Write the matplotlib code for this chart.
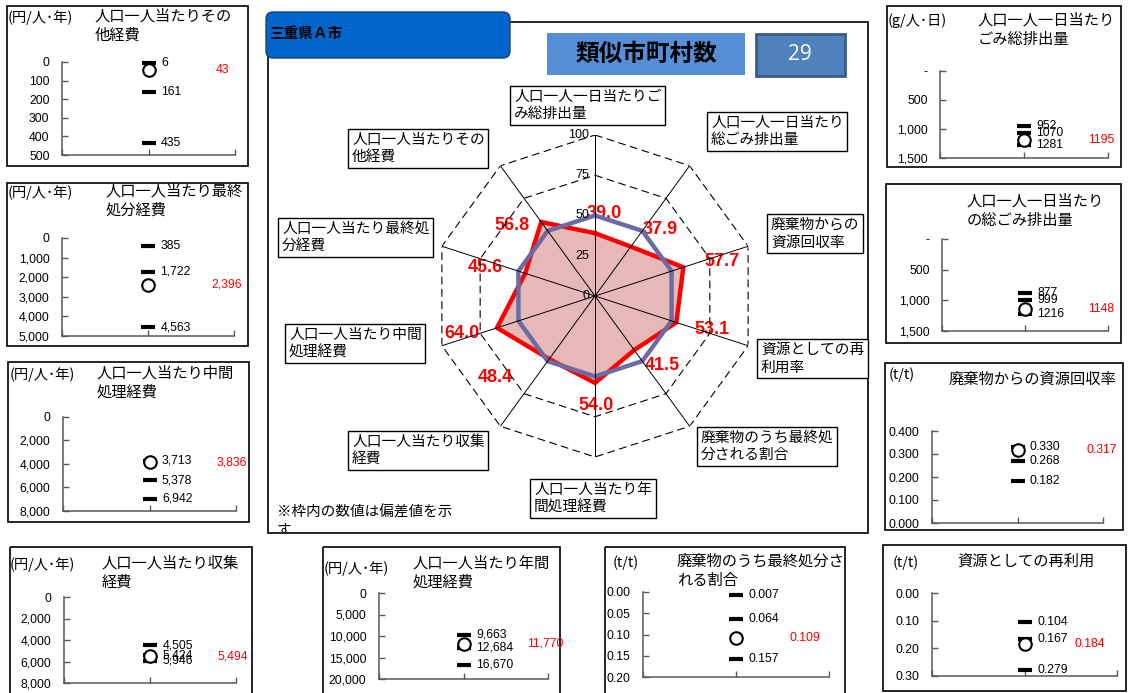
import matplotlib
matplotlib.use('Agg')
import numpy as np
import matplotlib.pyplot as plt
from matplotlib.patches import Rectangle, FancyBboxPatch
from matplotlib.ticker import FuncFormatter, MultipleLocator
from matplotlib.transforms import blended_transform_factory, Bbox, TransformedBbox

plt.rcParams['font.family'] = ['Noto Sans CJK JP', 'DejaVu Sans']
NUM_FONT = ['Liberation Sans', 'DejaVu Sans']
BOLD_NUM_FONT = ['Liberation Sans Narrow', 'Liberation Sans', 'DejaVu Sans']

W, H = 1128, 693

# ヘッダー
TOWN = '三重県Ａ市'
SIMILAR_LABEL = '類似市町村数'
SIMILAR_COUNT = 29

# レーダーチャート（偏差値）
RADAR_LABELS = ['人口一人一日当たりご\nみ総排出量', '人口一人一日当たり\n総ごみ排出量',
                '廃棄物からの\n資源回収率', '資源としての再\n利用率',
                '廃棄物のうち最終処\n分される割合', '人口一人当たり年\n間処理経費',
                '人口一人当たり収集\n経費', '人口一人当たり中間\n処理経費',
                '人口一人当たり最終処\n分経費', '人口一人当たりその\n他経費']
RADAR_CITY = [39.0, 37.9, 57.7, 53.1, 41.5, 54.0, 48.4, 64.0, 45.6, 56.8]
RADAR_AVG = [50, 50, 50, 50, 50, 50, 50, 50, 50, 50]
RADAR_TICKS = [0, 25, 50, 75, 100]
NOTE = '※枠内の数値は偏差値を示\nす'

# 小グラフ
PANEL_TITLES = ['人口一人当たりその\n他経費', '人口一人当たり最終\n処分経費',
                '人口一人当たり中間\n処理経費', '人口一人当たり収集\n経費',
                '人口一人当たり年間\n処理経費', '廃棄物のうち最終処分さ\nれる割合',
                '資源としての再利用', '廃棄物からの資源回収率',
                '人口一人一日当たり\nごみ総排出量', '人口一人一日当たり\nの総ごみ排出量']
PANEL_UNITS = ['(円/人･年)', '(円/人･年)', '(円/人･年)', '(円/人･年)', '(円/人･年)',
               '(t/t)', '(t/t)', '(t/t)', '(g/人･日)', '']
PANEL_MARKS = [[6, 161, 435], [385, 1722, 4563], [3713, 5378, 6942],
               [4505, 5424, 5946], [9663, 12684, 16670], [0.007, 0.064, 0.157],
               [0.104, 0.167, 0.279], [0.330, 0.268, 0.182], [952, 1070, 1281],
               [877, 999, 1216]]
PANEL_CITY = [43, 2396, 3836, 5494, 11770, 0.109, 0.184, 0.317, 1195, 1148]
PANEL_YMAX = [500, 5000, 8000, 8000, 20000, 0.20, 0.30, 0.400, 1500, 1500]
PANEL_YSTEP = [100, 1000, 2000, 2000, 5000, 0.05, 0.10, 0.100, 500, 500]
PANEL_INVERT = [True, True, True, True, True, True, True, False, True, True]
VALUE_FMT = ['{:.0f}', '{:,.0f}', '{:,.0f}', '{:,.0f}', '{:,.0f}',
             '{:.3f}', '{:.3f}', '{:.3f}', '{:.0f}', '{:.0f}']
TICK_FMT = ['{:.0f}', '{:,.0f}', '{:,.0f}', '{:,.0f}', '{:,.0f}',
            '{:.2f}', '{:.2f}', '{:.3f}', '{:,.0f}', '{:,.0f}']
ZERO_DASH = [False, False, False, False, False, False, False, False, True, True]

# レイアウト（ピクセル）
PANEL_BOX = [(7, 6, 248, 166), (7, 183, 248, 346), (8, 362, 249, 522),
             (10, 547, 252, 700), (323, 547, 560, 700), (605, 547, 845, 700),
             (883, 545, 1126, 691), (885, 363, 1123, 530), (887, 6, 1121, 167),
             (886, 184, 1121, 343)]
PANEL_AX = [(62, 62, 235, 155), (62, 238, 234, 336), (63, 417, 236, 511),
            (64, 597, 236, 683), (379, 593, 548, 679), (643, 592, 829, 677),
            (932, 593, 1117, 676), (932, 431, 1103, 523), (940, 71, 1108, 158),
            (942, 239, 1108, 331)]
UNIT_XY = [(8, 18), (8, 193), (10, 375), (10, 565), (324, 569), (613, 563),
           (893, 563), (889, 375), (888, 21), (888, 200)]
TITLE_XY = [(95, 8), (106, 183), (97, 365), (102, 555), (413, 555), (677, 553),
            (957, 553), (949, 371), (978, 12), (967, 193)]
RED_X = [0.89, 0.87, 0.89, 0.89, 0.876, 0.79, 0.77, 0.906, 0.88, 0.88]

RADAR_BOX = (434, 135, 756, 457)
CAT_XY = [(510, 87), (707, 113), (767, 215), (757, 340), (697, 428), (530, 480),
          (348, 432), (285, 325), (278, 219), (348, 130)]
VALUE_XY = [(604, 213), (660, 230), (722, 262), (712, 329), (662, 365),
            (596, 405), (495, 377), (462, 333), (485, 268), (512, 225)]


def to_rect(box):
    x0, y0, x1, y1 = box
    return [x0 / W, 1 - y1 / H, (x1 - x0) / W, (y1 - y0) / H]


fig = plt.figure(figsize=(W / 100, H / 100), dpi=100)
bg = fig.add_axes([0, 0, 1, 1])
bg.set_xlim(0, W)
bg.set_ylim(H, 0)
bg.axis('off')

# 中央の枠とヘッダー
bg.add_patch(Rectangle((268, 22), 600, 511, fill=False, ec='black', lw=1.2, zorder=1))
bg.add_patch(FancyBboxPatch((266, 12), 244, 46, boxstyle='round,pad=0,rounding_size=7',
                            fc='#0066CC', ec='#1F3F6F', lw=1, zorder=3))
bg.text(269, 33, TOWN, fontsize=10.5, fontweight='bold', va='center', ha='left', zorder=4)
bg.add_patch(Rectangle((547, 33), 198, 42, fc='#558ED5', ec='none', zorder=3))
bg.text(646, 54, SIMILAR_LABEL, fontsize=17, fontweight='bold', va='center', ha='center', zorder=4)
bg.add_patch(Rectangle((756, 34), 89, 42, fc='#4F81BD', ec='#385D8A', lw=2, zorder=3))
bg.text(800, 55, str(SIMILAR_COUNT), fontsize=15, color='white', va='center', ha='center',
        family=['Open Sans', 'DejaVu Sans'], zorder=4)

for i, lab in enumerate(RADAR_LABELS):
    x, y = CAT_XY[i]
    bg.text(x + 4, y + 3, lab, fontsize=10.6, va='top', ha='left', linespacing=1.3, zorder=4,
            bbox=dict(boxstyle='square,pad=0.25', fc='white', ec='black', lw=1))

# 注記（2行目は枠で切れる）
note = bg.text(277, 505, NOTE, fontsize=10.5, va='top', ha='left', linespacing=1.45, zorder=4)
note.set_clip_on(True)
note.set_clip_box(TransformedBbox(Bbox([[268, 22], [868, 532]]), bg.transData))

# レーダー
rad = fig.add_axes(to_rect(RADAR_BOX), projection='polar')
rad.set_theta_zero_location('N')
rad.set_theta_direction(-1)
rad.set_ylim(0, 100)
rad.grid(False)
rad.spines['polar'].set_visible(False)
rad.set_xticks([])
rad.set_yticks([])
rad.patch.set_alpha(0)

n = len(RADAR_CITY)
ang = np.linspace(0, 2 * np.pi, n, endpoint=False)
ang_c = np.append(ang, ang[0])
for t in RADAR_TICKS[1:]:
    rad.plot(ang_c, [t] * (n + 1), color='black', lw=0.8, ls=(0, (7, 4)), zorder=1)
city_c = RADAR_CITY + RADAR_CITY[:1]
avg_c = RADAR_AVG + RADAR_AVG[:1]
rad.fill(ang_c, city_c, color='#E6B9B8', zorder=2)
rad.plot(ang_c, city_c, color='#FF0000', lw=3.2, zorder=3, solid_joinstyle='miter')
rad.plot(ang_c, avg_c, color='#6B6BA3', lw=3.2, zorder=3.5, solid_joinstyle='miter')
for a in ang:
    rad.plot([a, a], [0, 100], color='black', lw=0.7, zorder=4)
for t in RADAR_TICKS:
    rad.annotate(str(t), (0, t), xytext=(-4, 0), textcoords='offset points', ha='right',
                 va='center', fontsize=9, family=NUM_FONT, zorder=5)

for i, v in enumerate(RADAR_CITY):
    x, y = VALUE_XY[i]
    bg.text(x, y, f'{v:.1f}', color='#FF0000', fontsize=13, fontweight='bold',
            family=BOLD_NUM_FONT, ha='center', va='center', zorder=6,
            bbox=dict(boxstyle='square,pad=0.05', fc='white', ec='none'))

# 小グラフ
for i in range(len(PANEL_TITLES)):
    x0, y0, x1, y1 = PANEL_BOX[i]
    bg.add_patch(Rectangle((x0, y0), x1 - x0, y1 - y0, fill=False, ec='black', lw=1.2))
    ux, uy = UNIT_XY[i]
    bg.text(ux, uy, PANEL_UNITS[i], fontsize=10.3, va='center', ha='left')
    tx, ty = TITLE_XY[i]
    bg.text(tx, ty, PANEL_TITLES[i], fontsize=11, va='top', ha='left', linespacing=1.15)

    ax = fig.add_axes(to_rect(PANEL_AX[i]))
    ax.patch.set_alpha(0)
    ax.set_xlim(0, 2)
    if PANEL_INVERT[i]:
        ax.set_ylim(PANEL_YMAX[i], 0)
    else:
        ax.set_ylim(0, PANEL_YMAX[i])
    ax.yaxis.set_major_locator(MultipleLocator(PANEL_YSTEP[i]))
    fmt_t = TICK_FMT[i]
    dash = ZERO_DASH[i]
    ax.yaxis.set_major_formatter(FuncFormatter(
        lambda v, p, f=fmt_t, d=dash: '-' if (d and abs(v) < 1e-9) else f.format(0 if abs(v) < 1e-9 else v)))
    ax.set_xticks([0, 1, 2])
    ax.set_xticklabels([])
    for s in ['top', 'right']:
        ax.spines[s].set_visible(False)
    for s in ['left', 'bottom']:
        ax.spines[s].set_color('#595959')
        ax.spines[s].set_linewidth(1.1)
    ax.tick_params(direction='in', length=4, width=1, color='#595959', labelsize=8.8, pad=9)
    for lab in ax.get_yticklabels():
        lab.set_family(NUM_FONT)

    marks = PANEL_MARKS[i]
    ax.plot([1] * len(marks), marks, ls='none', marker='_', ms=10, mew=3, color='black', clip_on=False)
    ax.plot([1], [PANEL_CITY[i]], ls='none', marker='o', ms=9, mfc='white', mec='black',
            mew=1.5, clip_on=False)
    for v in marks:
        ax.annotate(VALUE_FMT[i].format(v), (1, v), xytext=(9, 0), textcoords='offset points',
                    va='center', ha='left', fontsize=8.8, family=NUM_FONT)
    tr = blended_transform_factory(ax.transAxes, ax.transData)
    ax.text(RED_X[i], PANEL_CITY[i], VALUE_FMT[i].format(PANEL_CITY[i]), transform=tr,
            color='#FF0000', fontsize=8.8, va='center', ha='left', family=NUM_FONT)

fig.savefig('out.png', dpi=100)
